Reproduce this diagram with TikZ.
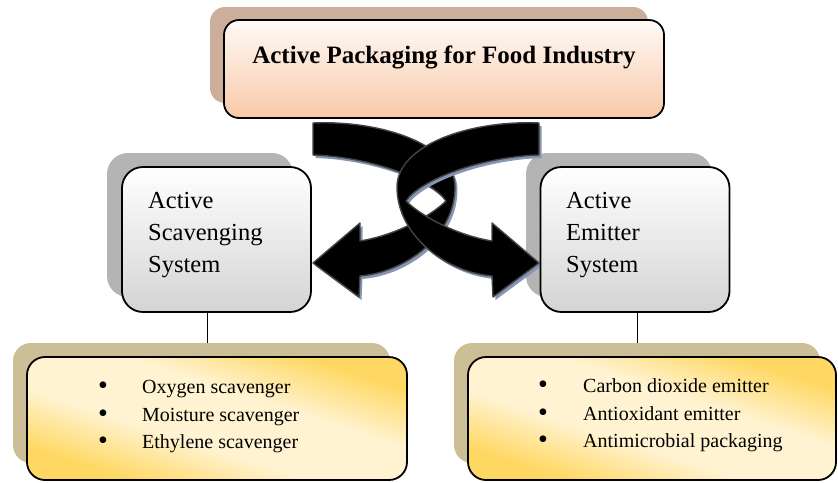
\documentclass[tikz,border=0pt]{standalone}
\usepackage{fontspec}
\setmainfont{Liberation Serif}
\usetikzlibrary{calc}
\definecolor{peachtop}{HTML}{FFFAF6}
\definecolor{peachbot}{HTML}{F8C8A8}
\definecolor{graytop}{HTML}{FFFFFF}
\definecolor{graybot}{HTML}{D4D4D4}
\definecolor{golddark}{HTML}{FFD863}
\definecolor{goldlight}{HTML}{FFF3D2}
\definecolor{shadowbrown}{HTML}{CDAE9A}
\definecolor{shadowgray}{HTML}{B4B4B4}
\definecolor{shadowkhaki}{HTML}{CCBE96}
\definecolor{shadowblue}{HTML}{8496B4}
\definecolor{bandedge}{HTML}{444444}
\pgfdeclarehorizontalshading{goldgrad}{100bp}{color(0bp)=(golddark); color(27bp)=(golddark); color(42bp)=(goldlight); color(58bp)=(goldlight); color(73bp)=(golddark); color(100bp)=(golddark)}
\newcommand{\drawband}[1]{\path[#1] (539,123) .. controls (470,120) and (397,145) .. (397,187)
  .. controls (397,235) and (445,272) .. (492,276) -- (493,297) -- (539,263) -- (492,223) -- (492,241)
  .. controls (455,235) and (420,215) .. (406,201)
  .. controls (420,180) and (480,157) .. (539,155) -- cycle;}
\tikzset{
  boxline/.style={draw=black, line width=1.8pt, inner sep=0pt},
  topbox/.style={boxline, rounded corners=15pt, top color=peachtop, bottom color=peachbot, minimum width=440pt, minimum height=98pt},
  topshadow/.style={fill=shadowbrown, rounded corners=15pt, minimum width=438pt, minimum height=96pt, inner sep=0pt},
  midbox/.style={boxline, rounded corners=21pt, top color=graytop, bottom color=graybot, minimum width=189pt, minimum height=145pt},
  midshadow/.style={fill=shadowgray, rounded corners=21pt, minimum width=186pt, minimum height=144pt, inner sep=0pt},
  listbox/.style={boxline, rounded corners=18pt, shading=goldgrad, shading angle=72, minimum height=123pt},
  listshadow/.style={fill=shadowkhaki, rounded corners=18pt, minimum height=120pt, inner sep=0pt},
  titletext/.style={anchor=base, font=\bfseries\fontsize{25}{30}\selectfont, inner sep=0pt},
  midtext/.style={anchor=base west, font=\fontsize{24.5}{29}\selectfont, inner sep=0pt},
  listtext/.style={anchor=base west, font=\fontsize{20}{24}\selectfont, inner sep=0pt},
  bul/.style={anchor=base, font=\fontsize{28}{30}\selectfont, inner sep=0pt},
  conn/.style={draw=black, line width=1pt}
}
\begin{document}
\begin{tikzpicture}[x=1pt, y=-1pt]
\useasboundingbox (0,0) rectangle (838,482);
% shadows of boxes
\node[topshadow] (tshadow) at (429,55) {};
\node[midshadow] (lshadow) at (200,225) {};
\node[midshadow] (rshadow) at (619,225) {};
\node[listshadow, minimum width=377pt] (llshadow) at (201.5,403) {};
\node[listshadow, minimum width=366pt] (rlshadow) at (637,403) {};
% band A (mirrored, underneath)
\begin{scope}[xshift=852pt, xscale=-1, shift={(-2.5,3)}]
  \drawband{fill=shadowblue}
\end{scope}
\begin{scope}[xshift=852pt, xscale=-1]
  \drawband{fill=black, draw=bandedge, line width=1.4pt, line join=round}
\end{scope}
% band B (on top)
\begin{scope}[shift={(2.5,3)}]
  \drawband{fill=shadowblue}
\end{scope}
\drawband{fill=black, draw=bandedge, line width=1.4pt, line join=round}
% main boxes
\node[topbox] (top) at (444,69) {};
\node[midbox] (left) at (216.5,239.5) {};
\node[midbox] (right) at (635,239.5) {};
\node[listbox, minimum width=380pt] (llist) at (217,418.5) {};
\node[listbox, minimum width=368pt] (rlist) at (652,418.5) {};
% connectors
\coordinate (lx) at (207,0);
\coordinate (rx) at (637,0);
\draw[conn] (left.south -| lx) -- (llshadow.north -| lx);
\draw[conn] (right.south -| rx) -- (rlshadow.north -| rx);
% texts
\node[titletext] (title) at (444,63) {Active Packaging for Food Industry};
\node[midtext] (l1) at (148,208) {Active};
\node[midtext] (l2) at (148,240) {Scavenging};
\node[midtext] (l3) at (148,272) {System};
\node[midtext] (r1) at (566,208) {Active};
\node[midtext] (r2) at (566,240) {Emitter};
\node[midtext] (r3) at (566,272) {System};
\node[bul] (lb1) at (103,394) {\textbullet};
\node[bul] (lb2) at (103,422) {\textbullet};
\node[bul] (lb3) at (103,449) {\textbullet};
\node[listtext] (lt1) at (142,393) {Oxygen scavenger};
\node[listtext] (lt2) at (142,421) {Moisture scavenger};
\node[listtext] (lt3) at (142,448) {Ethylene scavenger};
\node[bul] (rb1) at (543,393) {\textbullet};
\node[bul] (rb2) at (543,421) {\textbullet};
\node[bul] (rb3) at (543,448) {\textbullet};
\node[listtext] (rt1) at (583,392) {Carbon dioxide emitter};
\node[listtext] (rt2) at (583,420) {Antioxidant emitter};
\node[listtext] (rt3) at (583,447) {Antimicrobial packaging};
\end{tikzpicture}
\end{document}
